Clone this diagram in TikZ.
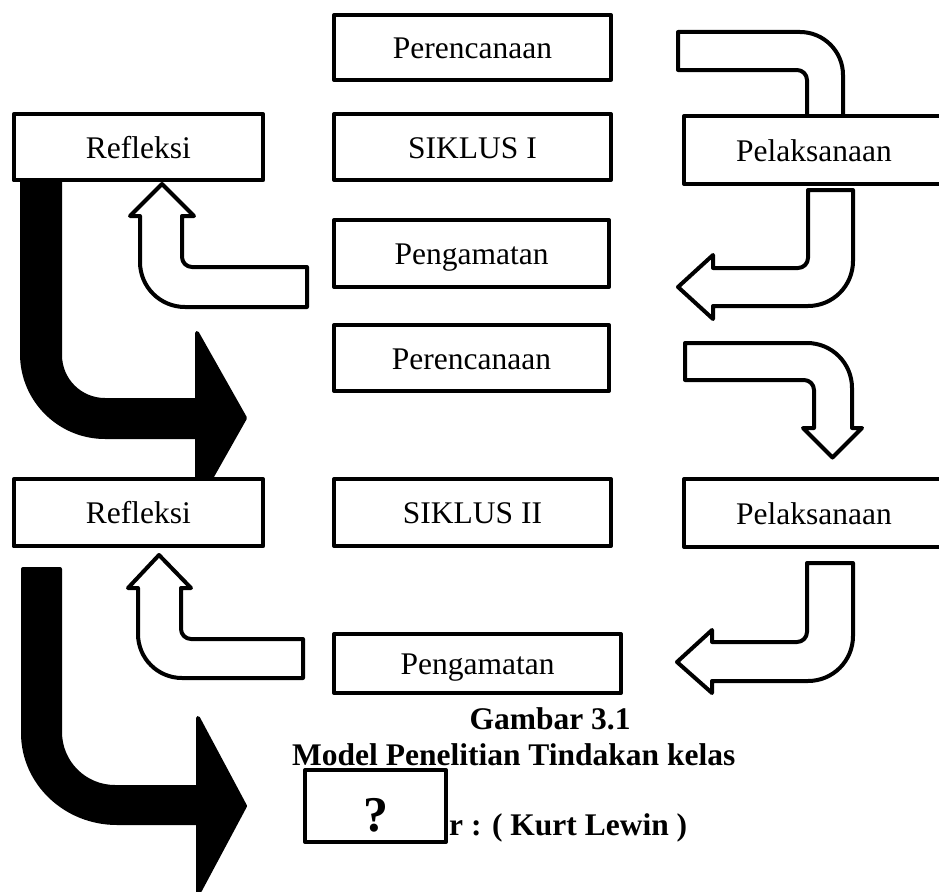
\documentclass[tikz,border=0pt]{standalone}
\usepackage{fontspec}
\setmainfont{Liberation Serif}
\begin{document}
\begin{tikzpicture}[x=1pt,y=-1pt,
  box/.style={draw=black, fill=white, line width=4pt, line join=round, inner sep=0pt,
    text height=22pt, text depth=0pt, font=\fontsize{31.5}{36}\selectfont},
  outlinearrow/.style={draw=black, fill=white, line width=4pt, line join=round},
  blackarrow/.style={draw=black, fill=black, line width=4pt, line join=round},
  caption/.style={inner sep=0pt, font=\fontsize{31.5}{36}\selectfont\bfseries}]
\useasboundingbox (0,0) rectangle (939,891);
\clip (0,0) rectangle (939,891);

% --- arrows (drawn first, boxes cover their ends) ---
% A: Perencanaan I -> Pelaksanaan I
\path[outlinearrow] (678,32) -- (800,32) .. controls (823.7,32) and (843,51.3) .. (843,75)
  -- (843,150) -- (807,150) -- (807,80) .. controls (807,74.5) and (802.5,70) .. (797,70)
  -- (678,70) -- cycle;
% B: Pelaksanaan I -> Pengamatan I
\path[outlinearrow] (808,190) -- (853,190) -- (853,261) .. controls (853,285.9) and (832.9,306) .. (808,306)
  -- (713,306) -- (713,319) -- (678,287) -- (713,255) -- (713,268) -- (798,268)
  .. controls (803.5,268) and (808,263.5) .. (808,258) -- cycle;
% C: Pengamatan I -> Refleksi I
\path[outlinearrow] (307,267) -- (307,307) -- (185,307) .. controls (160.1,307) and (140,286.9) .. (140,262)
  -- (140,216) -- (130,216) -- (162,184) -- (194,216) -- (182,216) -- (182,257)
  .. controls (182,262.5) and (186.5,267) .. (192,267) -- cycle;
% D: Refleksi I -> Siklus II (black)
\path[blackarrow] (22,160) -- (60,160) -- (60,355) .. controls (60,379.9) and (80.1,400) .. (105,400)
  -- (197,400) -- (197,333) -- (245,418) -- (197,503) -- (197,437) -- (105,437)
  .. controls (59.2,437) and (22,399.8) .. (22,354) -- cycle;
% E: Perencanaan II -> Pelaksanaan II
\path[outlinearrow] (685,343) -- (807,343) .. controls (831.9,343) and (852,363.1) .. (852,388)
  -- (852,428) -- (862,428) -- (832.5,457.5) -- (803,428) -- (814,428) -- (814,390)
  .. controls (814,384.5) and (809.5,380) .. (804,380) -- (685,380) -- cycle;
% F: Pelaksanaan II -> Pengamatan II
\path[outlinearrow] (807,563) -- (853,563) -- (853,636) .. controls (853,660.9) and (832.9,681) .. (808,681)
  -- (712,681) -- (712,693) -- (677,662) -- (712,630) -- (712,642) -- (797,642)
  .. controls (802.5,642) and (807,637.5) .. (807,632) -- cycle;
% G: Pengamatan II -> Refleksi II
\path[outlinearrow] (303,639) -- (303,678) -- (182,678) .. controls (157.7,678) and (138,658.3) .. (138,634)
  -- (138,588) -- (128,588) -- (159,555) -- (191,588) -- (181,588) -- (181,629)
  .. controls (181,634.5) and (185.5,639) .. (191,639) -- cycle;
% H: Refleksi II -> next (black)
\path[blackarrow] (23,569) -- (60,569) -- (60,732) .. controls (60,762.4) and (84.6,787) .. (115,787)
  -- (198,787) -- (198,718) -- (245,806) -- (198,894) -- (198,823) -- (117,823)
  .. controls (65.1,823) and (23,782.7) .. (23,733) -- cycle;

% --- boxes ---
\node[box, minimum width=277pt, minimum height=64.5pt] (p1) at (472.5,47.5) {Perencanaan};
\node[box, minimum width=277pt, minimum height=66pt] (s1) at (472.5,147) {SIKLUS I};
\node[box, minimum width=249.3pt, minimum height=66pt] (r1) at (138.4,147.3) {Refleksi};
\node[box, minimum width=260pt, minimum height=67.7pt] (l1) at (814,150) {Pelaksanaan};
\node[box, minimum width=275pt, minimum height=67pt] (g1) at (471.5,253.5) {Pengamatan};
\node[box, minimum width=275pt, minimum height=66pt] (p2) at (471.5,358) {Perencanaan};
\node[box, minimum width=249.3pt, minimum height=67pt] (r2) at (138.4,512.8) {Refleksi};
\node[box, minimum width=277pt, minimum height=67pt] (s2) at (472.5,512.5) {SIKLUS II};
\node[box, minimum width=260pt, minimum height=68pt] (l2) at (814,513) {Pelaksanaan};
\node[box, minimum width=287pt, minimum height=59pt] (g2) at (477.5,663.5) {Pengamatan};

% --- caption ---
\node[caption, anchor=base] (cap1) at (550,729) {Gambar 3.1};
\node[caption, anchor=base west] (cap2) at (292,765) {Model Penelitian Tindakan kelas};
\node[caption, anchor=base west] (cap3) at (449,835) {r : ( Kurt Lewin )};

\node[box, minimum width=141pt, minimum height=72pt, text height=50pt,
  font=\fontsize{50}{56}\selectfont\bfseries] (q) at (375.5,806) {?};
\end{tikzpicture}
\end{document}
